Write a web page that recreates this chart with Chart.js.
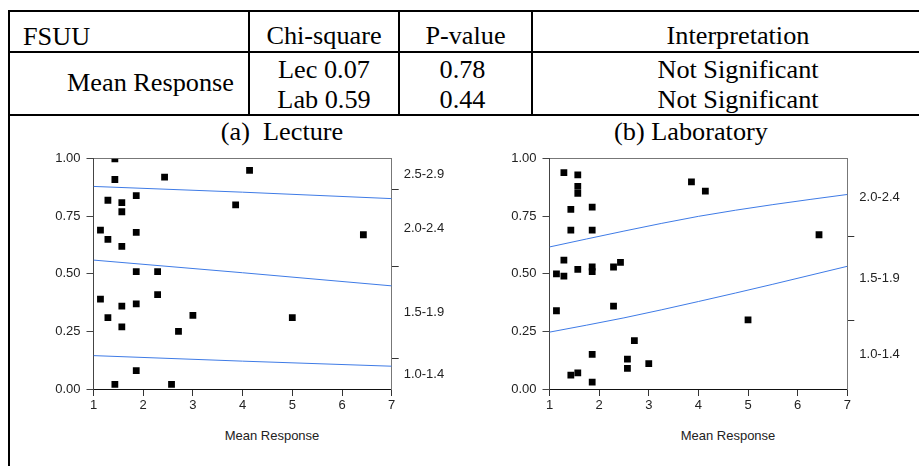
<!DOCTYPE html>
<html>
<head>
<meta charset="utf-8">
<script src="https://cdn.jsdelivr.net/npm/chart.js@4.4.1/dist/chart.umd.min.js"></script>
<style>
  body { margin: 0; background: #fff; }
  #page { position: relative; width: 919px; height: 466px; overflow: hidden; background: #fff; }
  .rule { position: absolute; background: #000; }
  .serif { position: absolute; font-family: "Liberation Serif", "Times New Roman", serif; font-size: 25px; line-height: 25px; color: #000; white-space: nowrap; transform: scaleX(1.05); }
  .serif.left { transform-origin: left center; }
  .serif.mid { text-align: center; transform-origin: center center; }
  .sans { position: absolute; font-family: "Liberation Sans", Arial, sans-serif; font-size: 13px; line-height: 13px; color: #222; white-space: nowrap; text-align: center; }
  canvas { position: absolute; }
</style>
</head>
<body>
<div id="page">
  <!-- table rules -->
  <div class="rule" style="left:8px;top:10px;width:911px;height:2px"></div>
  <div class="rule" style="left:8px;top:51px;width:911px;height:2px"></div>
  <div class="rule" style="left:8px;top:114px;width:911px;height:2px"></div>
  <div class="rule" style="left:8px;top:10px;width:2px;height:456px"></div>
  <div class="rule" style="left:248px;top:10px;width:2px;height:106px"></div>
  <div class="rule" style="left:398px;top:10px;width:2px;height:106px"></div>
  <div class="rule" style="left:531px;top:10px;width:2px;height:106px"></div>

  <div class="serif left" style="left:23px;top:24px">FSUU</div>
  <div class="serif mid" style="left:249px;top:23px;width:150px">Chi-square</div>
  <div class="serif mid" style="left:400px;top:23px;width:131px">P-value</div>
  <div class="serif mid" style="left:533px;top:23px;width:410px">Interpretation</div>

  <div class="serif left" style="left:67px;top:70px">Mean Response</div>
  <div class="serif mid" style="left:249px;top:57px;width:150px">Lec 0.07</div>
  <div class="serif mid" style="left:249px;top:87px;width:150px">Lab 0.59</div>
  <div class="serif mid" style="left:400px;top:57px;width:125px">0.78</div>
  <div class="serif mid" style="left:400px;top:87px;width:125px">0.44</div>
  <div class="serif mid" style="left:533px;top:57px;width:410px">Not Significant</div>
  <div class="serif mid" style="left:533px;top:87px;width:410px">Not Significant</div>

  <div class="serif mid" style="left:132px;top:119px;width:300px">(a)&nbsp;&nbsp;Lecture</div>
  <div class="serif mid" style="left:541px;top:119px;width:300px">(b) Laboratory</div>

  <canvas id="lectureChart" width="440" height="275" style="left:10px;top:145px"></canvas>
  <canvas id="labChart" width="445" height="275" style="left:466px;top:145px"></canvas>

  <div class="sans" style="left:172px;top:429px;width:200px">Mean Response</div>
  <div class="sans" style="left:628px;top:429px;width:200px">Mean Response</div>
</div>

<script>
// axis ticks shared by both panels
const xTicks = [1, 2, 3, 4, 5, 6, 7];
const yTicks = [0, 0.25, 0.5, 0.75, 1];

// Lecture: mean response vs cumulative proportion
const lectureX = [1.43, 1.43, 2.43, 4.14, 1.29, 1.57, 1.57, 1.86, 3.86, 1.14, 1.29, 1.57, 1.86, 6.43,
                  1.86, 2.29, 2.29, 1.14, 1.29, 1.57, 1.86, 1.57, 3.00, 2.71, 5.00, 1.86, 1.43, 2.57];
const lectureY = [1.00, 0.91, 0.92, 0.95, 0.82, 0.81, 0.77, 0.84, 0.80, 0.69, 0.65, 0.62, 0.68, 0.67,
                  0.51, 0.51, 0.41, 0.39, 0.31, 0.36, 0.37, 0.27, 0.32, 0.25, 0.31, 0.08, 0.02, 0.02];

// fitted cumulative curves (lecture)
const lectureCurveX = [1, 4, 7];
const lectureCurveHigh = [0.880, 0.855, 0.827];
const lectureCurveMid = [0.560, 0.505, 0.448];
const lectureCurveLow = [0.145, 0.121, 0.099];

const lectureBands = ['1.0-1.4', '1.5-1.9', '2.0-2.4', '2.5-2.9'];
const lectureCuts = [0.131, 0.533, 0.866];

// Laboratory
const labX = [1.29, 1.57, 1.57, 1.57, 1.43, 1.86, 1.43, 1.86, 3.86, 4.14, 6.43, 1.29, 1.14, 1.29, 1.57,
              1.86, 1.86, 2.29, 2.43, 1.14, 2.29, 5.00, 2.71, 1.86, 2.57, 3.00, 2.57, 1.43, 1.57, 1.86];
const labY = [0.94, 0.93, 0.88, 0.85, 0.78, 0.79, 0.69, 0.69, 0.90, 0.86, 0.67, 0.56, 0.50, 0.49, 0.52,
              0.53, 0.51, 0.53, 0.55, 0.34, 0.36, 0.30, 0.21, 0.15, 0.13, 0.11, 0.09, 0.06, 0.07, 0.03];

const labCurveX = [1, 2.5, 4, 5.5, 7];
const labCurveHigh = [0.617, 0.686, 0.750, 0.801, 0.845];
const labCurveLow = [0.247, 0.309, 0.380, 0.455, 0.533];

const labBands = ['1.0-1.4', '1.5-1.9', '2.0-2.4'];
const labCuts = [0.298, 0.664];

const toPoints = (xs, ys) => xs.map((x, i) => ({ x: x, y: ys[i] }));

// right axis: tick marks at the cut points, band names between them
function bandTicks(bands, cuts) {
  const edges = [0, ...cuts, 1];
  const out = [];
  bands.forEach((name, i) => {
    if (i > 0) out.push({ value: edges[i], label: '' });
    out.push({ value: (edges[i] + edges[i + 1]) / 2, label: name });
  });
  return out;
}

function makeChart(id, pts, curveX, curves, bands, cuts, leftW, rightW) {
  const side = bandTicks(bands, cuts);
  const datasets = [{
    data: pts,
    pointStyle: 'rect',
    pointRadius: 4.8,
    backgroundColor: '#000',
    borderWidth: 0,
    order: 0
  }];
  curves.forEach(c => {
    datasets.push({
      data: toPoints(curveX, c),
      showLine: true,
      pointRadius: 0,
      borderColor: '#3f7be6',
      borderWidth: 1,
      cubicInterpolationMode: 'monotone',
      order: 1
    });
  });

  const tickFont = { family: 'Liberation Sans, Arial, sans-serif', size: 13 };

  return new Chart(document.getElementById(id), {
    type: 'scatter',
    data: { datasets: datasets },
    options: {
      responsive: false,
      animation: false,
      devicePixelRatio: 1,
      layout: { padding: { top: 9.5, left: 0, right: 0, bottom: 0 } },
      plugins: { legend: { display: false }, tooltip: { enabled: false } },
      scales: {
        x: {
          type: 'linear', min: 1, max: 7,
          afterBuildTicks: axis => { axis.ticks = xTicks.map(v => ({ value: v })); },
          ticks: { font: tickFont, color: '#222', padding: 2, maxRotation: 0 },
          grid: { drawOnChartArea: false, tickLength: 7, tickColor: '#333' },
          border: { color: '#111', width: 1 },
          afterFit: axis => { axis.height = 31; }
        },
        xTop: {
          type: 'linear', position: 'top', min: 1, max: 7,
          ticks: { display: false },
          grid: { drawOnChartArea: false, drawTicks: false },
          border: { color: '#777', width: 1 },
          afterFit: axis => { axis.height = 0; }
        },
        y: {
          type: 'linear', min: 0, max: 1,
          afterBuildTicks: axis => { axis.ticks = yTicks.map(v => ({ value: v })); },
          ticks: { font: tickFont, color: '#222', padding: 6, callback: v => v.toFixed(2) },
          grid: { drawOnChartArea: false, tickLength: 7, tickColor: '#444' },
          border: { color: '#444', width: 1 },
          afterFit: axis => { axis.width = leftW; }
        },
        yBand: {
          type: 'linear', position: 'right', min: 0, max: 1,
          afterBuildTicks: axis => { axis.ticks = side.map(t => ({ value: t.value })); },
          ticks: {
            font: tickFont, color: '#222', padding: 5, autoSkip: false,
            callback: (v, i) => side[i] ? side[i].label : ''
          },
          grid: {
            drawOnChartArea: false, tickLength: 7,
            tickColor: ctx => (side[ctx.index] && side[ctx.index].label === '') ? '#333' : 'rgba(0,0,0,0)'
          },
          border: { color: '#777', width: 1 },
          afterFit: axis => { axis.width = rightW; }
        }
      }
    }
  });
}

makeChart('lectureChart', toPoints(lectureX, lectureY), lectureCurveX,
  [lectureCurveHigh, lectureCurveMid, lectureCurveLow], lectureBands, lectureCuts, 83.5, 58.3);

makeChart('labChart', toPoints(labX, labY), labCurveX,
  [labCurveHigh, labCurveLow], labBands, labCuts, 83.5, 63.7);
</script>
</body>
</html>
